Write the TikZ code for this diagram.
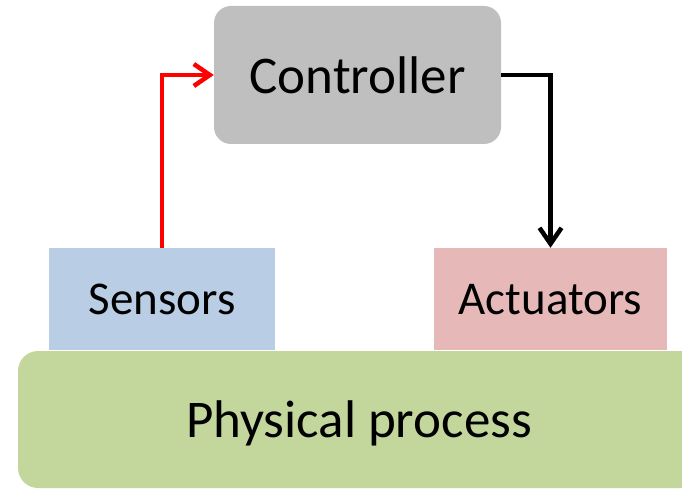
\documentclass[tikz,border=0pt]{standalone}
\usepackage{fontspec}
\setmainfont{Carlito}
\usetikzlibrary{arrows.meta,positioning}
\tikzset{>={Straight Barb[length=16pt,width=22pt]}}

\definecolor{ctrlgray}{HTML}{BFBFBF}
\definecolor{sensblue}{HTML}{B9CDE5}
\definecolor{actpink}{HTML}{E6B9B8}
\definecolor{procgreen}{HTML}{C3D69B}

\begin{document}
\begin{tikzpicture}[x=1pt, y=-1pt,
    block/.style = {inner sep=0pt, text=black, text depth=0pt},
    bigtext/.style = {font=\fontsize{53}{60}\selectfont},
    smalltext/.style = {font=\fontsize{47}{54}\selectfont},
    link/.style = {line width=4.5pt, ->}]
    \useasboundingbox (0,0) rectangle (682,489);
    \clip (0,0) rectangle (682,489);

    % controller on top
    \node[block, bigtext, fill=ctrlgray, rounded corners=17pt,
          minimum width=287pt, minimum height=138pt] (ctrl) at (357.5,75) {Controller};

    % sensors and actuators
    \node[block, smalltext, fill=sensblue,
          minimum width=226pt, minimum height=102pt] (sens) at (162,299) {Sensors};
    \node[block, smalltext, fill=actpink,
          minimum width=233pt, minimum height=102pt] (act) at (550.5,299) {Actuators};

    % the plant
    \node[block, bigtext, fill=procgreen, rounded corners=20pt,
          minimum width=682pt, minimum height=137pt] (proc) at (359,419.5) {Physical process};

    \draw[link, red] (sens.north) |- (ctrl.west);
    \draw[link, black] (ctrl.east) -| (act.north);
\end{tikzpicture}
\end{document}
